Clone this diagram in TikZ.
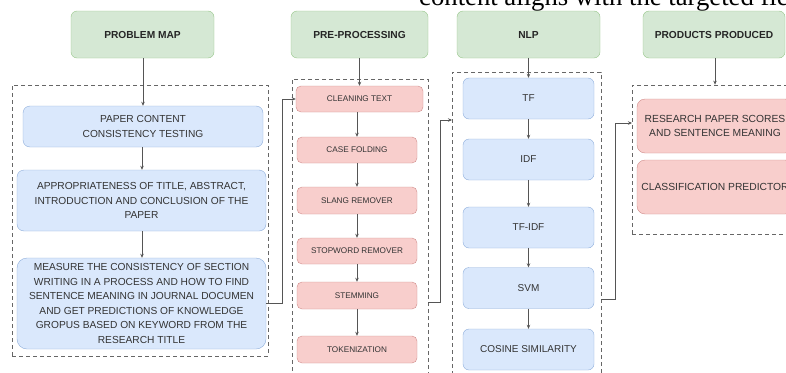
\documentclass[tikz,border=0pt]{standalone}
\usepackage{fontspec}
\setmainfont{Liberation Sans}
\newfontfamily\serifx{Liberation Serif}
\usetikzlibrary{arrows.meta,calc}
\definecolor{gfill}{HTML}{D5E8D4}
\definecolor{gdraw}{HTML}{97C68A}
\definecolor{bfill}{HTML}{DAE8FC}
\definecolor{bdraw}{HTML}{8FAEDB}
\definecolor{rfill}{HTML}{F8CECC}
\definecolor{rdraw}{HTML}{D08C8A}
\definecolor{lnc}{HTML}{555555}
\definecolor{txc}{HTML}{333333}
\definecolor{dsh}{HTML}{666666}
\begin{document}
\begin{tikzpicture}[x=1pt,y=-1pt,
  hdr/.style={draw=gdraw,fill=gfill,rounded corners=6pt,minimum width=#1,minimum height=47pt,
    inner sep=0pt,font=\fontsize{10.2}{12}\selectfont\bfseries,text=black!85},
  bluebox/.style={draw=bdraw,fill=bfill,rounded corners=7pt,inner sep=0pt,align=center,
    text=txc,font=\fontsize{10.2}{14.5}\selectfont},
  redbox/.style={draw=rdraw,fill=rfill,rounded corners=5pt,inner sep=0pt,align=center,
    text=txc,font=\fontsize{8.2}{10}\selectfont},
  prodbox/.style={draw=rdraw,fill=rfill,rounded corners=8pt,inner sep=0pt,align=center,
    text=txc,font=\fontsize{10.3}{14}\selectfont,minimum width=156pt,minimum height=54pt},
  nlpbox/.style={draw=bdraw,fill=bfill,rounded corners=6pt,inner sep=0pt,align=center,
    text=txc,font=\fontsize{10}{12}\selectfont,minimum width=131pt,minimum height=41pt},
  container/.style={draw=dsh,dash pattern=on 4pt off 3pt,line width=0.7pt,inner sep=0pt},
  arr/.style={draw=lnc,line width=0.8pt,-{Stealth[length=4pt,width=3.5pt]}},
]
\useasboundingbox (0,0) rectangle (786,372);
\clip (0,0) rectangle (786,372);

% top text fragment
\node[anchor=base west,inner sep=0pt,font=\serifx\fontsize{26.7}{30}\selectfont] (toptext) at (419,5.5) {content aligns with the targeted fie};

% containers
\node[container,minimum width=256pt,minimum height=271pt] (pmc) at (140,220.5) {};
\node[container,minimum width=136pt,minimum height=301pt] (ppc) at (360,229.5) {};
\node[container,minimum width=149pt,minimum height=313pt] (nlc) at (526.5,228.5) {};
\node[container,minimum width=168pt,minimum height=149pt] (prc) at (716,159.5) {};

% headers
\node[hdr=143pt] (h1) at (142.5,34.5) {PROBLEM MAP};
\node[hdr=137pt] (h2) at (359.5,34.5) {PRE-PROCESSING};
\node[hdr=143pt] (h3) at (528.5,34.5) {NLP};
\node[hdr=142pt] (h4) at (714,34.5) {PRODUCTS PRODUCED};

% problem map
\node[bluebox,minimum width=240pt,minimum height=41pt] (pb1) at (143,126.5)
  {PAPER CONTENT\\CONSISTENCY TESTING};
\node[bluebox,minimum width=249pt,minimum height=61pt] (pb2) at (141.5,200.5)
  {APPROPRIATENESS OF TITLE, ABSTRACT,\\INTRODUCTION AND CONCLUSION OF THE\\PAPER};
\node[bluebox,minimum width=249pt,minimum height=91pt,rounded corners=10pt] (pb3) at (141.5,303.5)
  {MEASURE THE CONSISTENCY OF SECTION\\WRITING IN A PROCESS AND HOW TO FIND\\SENTENCE MEANING IN JOURNAL DOCUMEN\\AND GET PREDICTIONS OF KNOWLEDGE\\GROPUS BASED ON KEYWORD FROM THE\\RESEARCH TITLE};

% pre-processing
\node[redbox,minimum width=127pt,minimum height=26pt] (clean) at (359.5,99) {CLEANING TEXT};
\node[redbox,minimum width=120pt,minimum height=26pt] (case) at (357,150) {CASE FOLDING};
\node[redbox,minimum width=120pt,minimum height=27pt] (slang) at (357,200.5) {SLANG REMOVER};
\node[redbox,minimum width=120pt,minimum height=26pt] (stop) at (357,251) {STOPWORD REMOVER};
\node[redbox,minimum width=120pt,minimum height=27pt] (stem) at (357,295.5) {STEMMING};
\node[redbox,minimum width=120pt,minimum height=27pt] (tok) at (357,349.5) {TOKENIZATION};

% nlp
\node[nlpbox] (tf) at (528.5,98.5) {TF};
\node[nlpbox] (idf) at (528.5,159.5) {IDF};
\node[nlpbox] (tfidf) at (528.5,227.5) {TF-IDF};
\node[nlpbox] (svm) at (528.5,288) {SVM};
\node[nlpbox] (cos) at (528.5,349.5) {COSINE SIMILARITY};

% products
\node[prodbox] (rp) at (715,126) {RESEARCH PAPER SCORES\\AND SENTENCE MEANING};
\node[prodbox] (cp) at (715,187) {CLASSIFICATION PREDICTOR};

% header arrows
\draw[arr] (h1.south -| pb1.north) -- (pb1.north);
\draw[arr] (h2.south) -- (h2.south |- clean.north);
\draw[arr] (h3.south) -- (h3.south |- tf.north);
\draw[arr] (h4.south -| 715,0) -- (prc.north -| 715,0);

% inner arrows
\draw[arr] (pb1.south -| 142,0) -- (pb2.north -| 142,0);
\draw[arr] (pb2.south -| 142,0) -- (pb3.north -| 142,0);
\draw[arr] (case.north |- clean.south) -- (case.north);
\draw[arr] (case.south) -- (slang.north);
\draw[arr] (slang.south) -- (stop.north);
\draw[arr] (stop.south) -- (stem.north);
\draw[arr] (stem.south) -- (tok.north);
\draw[arr] (tf.south) -- (idf.north);
\draw[arr] (idf.south) -- (tfidf.north);
\draw[arr] (tfidf.south) -- (svm.north);
\draw[arr] (svm.south) -- (cos.north);

% cross connectors
\coordinate (s1) at (428,302);
\coordinate (t1) at (452,120);
\coordinate (s2) at (601,299);
\coordinate (t2) at (632,123);
\draw[arr] (pb3.east) -- ++(16,0) |- (clean.west);
\draw[arr] (s1) -- (440,302) |- (t1);
\draw[arr] (s2) -- (615,299) |- (t2);
\end{tikzpicture}
\end{document}
